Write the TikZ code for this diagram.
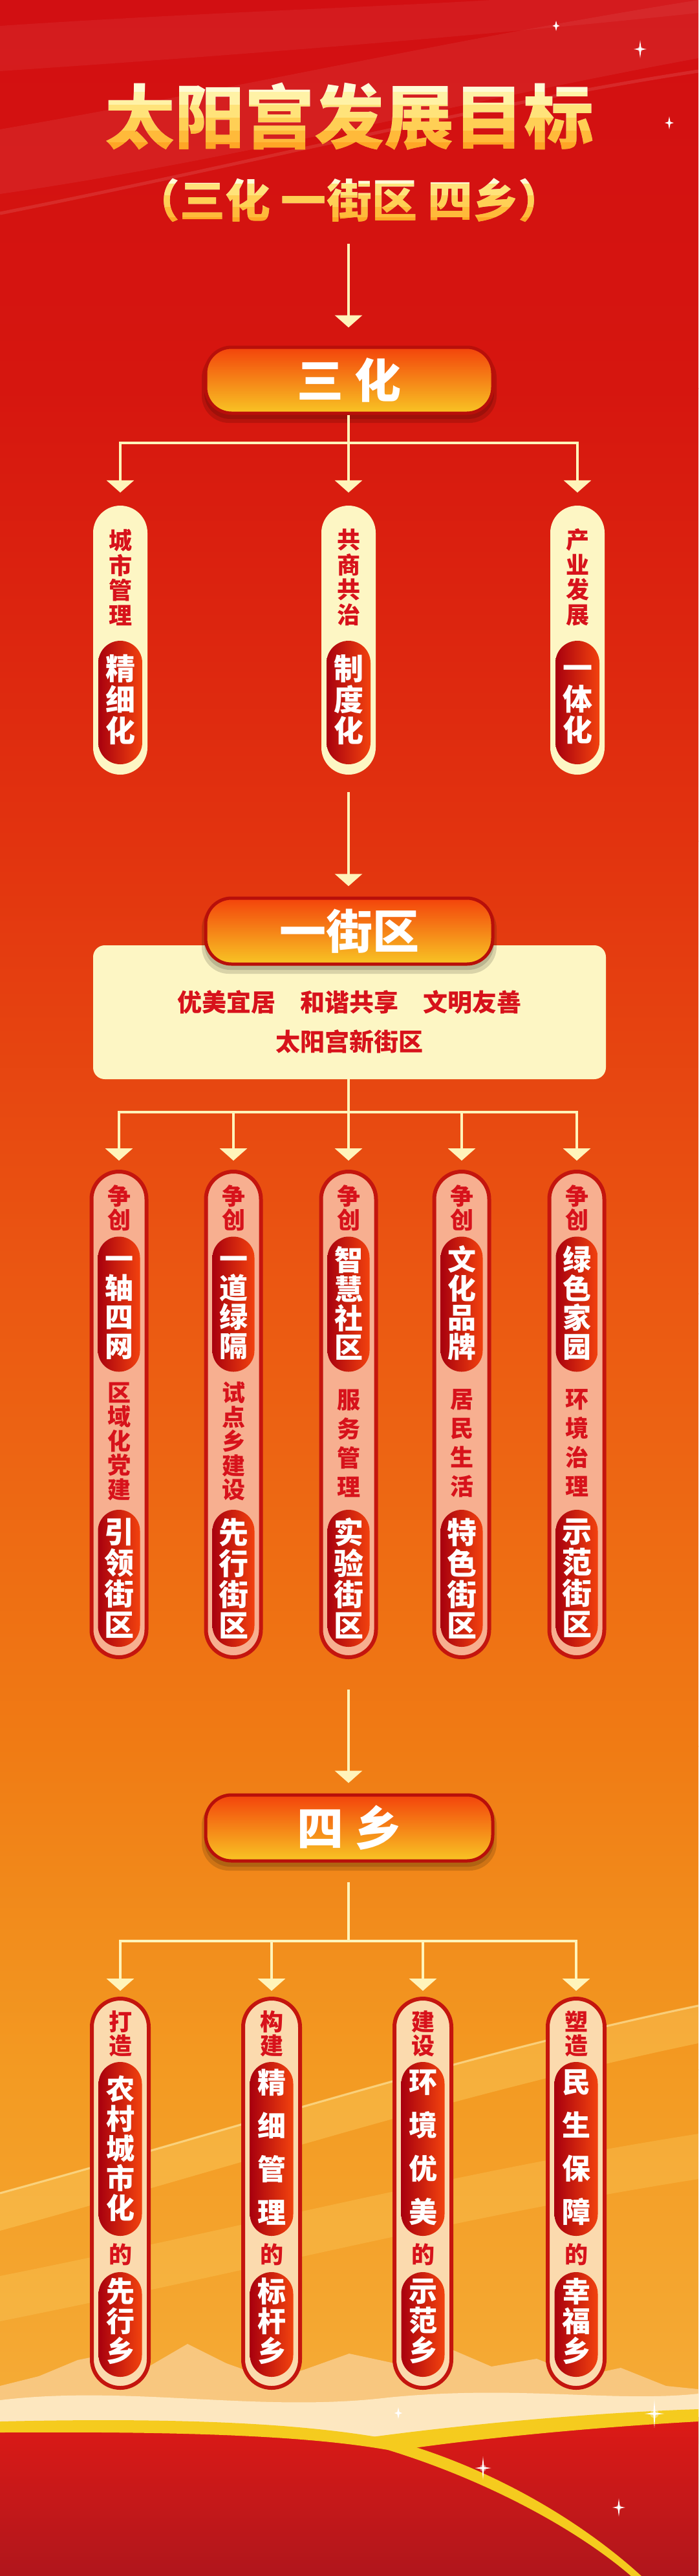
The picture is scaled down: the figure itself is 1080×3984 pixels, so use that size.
\documentclass[tikz,border=0pt]{standalone}
\usepackage{fontspec}
\setmainfont{Noto Sans CJK SC}
\usetikzlibrary{arrows.meta}
\definecolor{bg0}{HTML}{D20F12}
\definecolor{bg1}{HTML}{D6160F}
\definecolor{bg2}{HTML}{E2330F}
\definecolor{bg3}{HTML}{EB5812}
\definecolor{bg4}{HTML}{F07B14}
\definecolor{bg5}{HTML}{F39A22}
\definecolor{bg6}{HTML}{F6B440}
\definecolor{cream}{HTML}{FDF6C4}
\definecolor{txtred}{HTML}{D7121B}
\definecolor{arrowc}{HTML}{FFF4BA}
\definecolor{boxborder}{HTML}{B80F0A}
\definecolor{boxtop}{HTML}{F3430B}
\definecolor{boxmid}{HTML}{F5891A}
\definecolor{boxbot}{HTML}{F8C524}
\definecolor{salmon}{HTML}{F7AF90}
\definecolor{peach}{HTML}{FBDAAE}
\definecolor{pillborder}{HTML}{C4150E}
\definecolor{pillL}{HTML}{A8000E}
\definecolor{pillM}{HTML}{D01015}
\definecolor{pillR}{HTML}{F2420E}
\definecolor{goldA}{HTML}{FFF8C8}
\definecolor{g1}{HTML}{FFFBD6}
\definecolor{g2}{HTML}{FFF2A6}
\definecolor{g3}{HTML}{FFE37A}
\definecolor{g4}{HTML}{FFCF55}
\definecolor{g5}{HTML}{FFBA3A}
\definecolor{g6}{HTML}{FFA626}
\definecolor{redbotA}{HTML}{DD1A16}
\definecolor{redbotB}{HTML}{B0161C}
\definecolor{ribbon}{HTML}{F5CB1E}
\definecolor{mtnA}{HTML}{F9CB88}
\definecolor{mtnB}{HTML}{FFF0D0}
\definecolor{bandc}{HTML}{FFE27A}

\newcommand\mysparkle[3]{%
  \begin{scope}[shift={(#1,#2)}]
    \fill[white,opacity=0.35] (0,0) circle [radius=#3*0.3pt];
    \fill[white] (0,-#3) -- (1.6,-1.6) -- (#3*0.7,0) -- (1.6,1.6) -- (0,#3) -- (-1.6,1.6) -- (-#3*0.7,0) -- (-1.6,-1.6) -- cycle;
  \end{scope}}

\newcommand\mybox[4]{%
  \fill[black,opacity=0.14,rounded corners=42pt] (#2-228,#3-46) rectangle (#2+228,#3+66);
  \fill[black,opacity=0.14,rounded corners=40pt] (#2-224,#3-46) rectangle (#2+224,#3+60);
  \node[mainbox] (#1) at (#2,#3) {#4};}

\tikzset{
  conn/.style={draw=arrowc, line width=4pt},
  arr/.style={conn, -{Triangle[width=42pt,length=19pt]}},
  mainbox/.style={draw=boxborder, line width=5pt, rounded corners=40pt,
    minimum width=444pt, minimum height=102pt, inner sep=0pt,
    top color=boxtop, middle color=boxmid, bottom color=boxbot,
    text=white, font=\fontsize{72}{72}\selectfont\bfseries},
  creambox/.style={fill=cream, rounded corners=18pt, minimum width=793pt,
    minimum height=207pt, inner sep=0pt},
  linetext/.style={text=txtred, inner sep=0pt, font=\fontsize{38}{38}\selectfont\bfseries},
  redv/.style 2 args={align=center, inner sep=0pt, text=txtred,
    font=\fontsize{#1}{#2}\selectfont\bfseries},
  whitev/.style 2 args={align=center, inner sep=0pt, text=white,
    font=\fontsize{#1}{#2}\selectfont\bfseries},
  pillq/.style={fill=cream, minimum width=84pt, minimum height=416pt,
    rounded corners=42pt, inner sep=0pt},
  pillr/.style={fill=salmon, draw=pillborder, line width=6pt, minimum width=85pt,
    minimum height=751pt, rounded corners=42.5pt, inner sep=0pt},
  pills/.style={fill=peach, draw=pillborder, line width=6pt, minimum width=88pt,
    minimum height=602pt, rounded corners=44pt, inner sep=0pt},
  innerpill/.style 2 args={left color=pillL, middle color=pillM, right color=pillR,
    minimum width=#1pt, minimum height=#2pt, rounded corners=#1pt/2, inner sep=0pt},
  gmul/.style={blend mode=darken, fill=#1},
}

\begin{document}
\begin{tikzpicture}[x=1pt,y=-1pt]
\useasboundingbox (0,0) rectangle (1080,3984);

% ---------- background ----------
\fill[top color=bg0, bottom color=bg1] (0,0) rectangle (1080,601);
\fill[top color=bg1, bottom color=bg2] (0,600) rectangle (1080,1301);
\fill[top color=bg2, bottom color=bg3] (0,1300) rectangle (1080,2001);
\fill[top color=bg3, bottom color=bg4] (0,2000) rectangle (1080,2701);
\fill[top color=bg4, bottom color=bg5] (0,2700) rectangle (1080,3201);
\fill[top color=bg5, bottom color=bg6] (0,3200) rectangle (1080,3984);

% top light swooshes
\fill[white,opacity=0.06] (0,200) .. controls (350,140) and (700,60) .. (1080,0)
  -- (1080,90) .. controls (700,160) and (350,250) .. (0,300) -- cycle;
\fill[white,opacity=0.05] (0,40) .. controls (300,20) and (600,10) .. (760,0)
  -- (1080,0) -- (1080,20) .. controls (700,60) and (300,90) .. (0,110) -- cycle;
\draw[white,opacity=0.10,line width=5pt] (0,330) .. controls (400,250) and (750,160) .. (1080,110);
\mysparkle{990}{76}{14}
\mysparkle{1035}{190}{10}
\mysparkle{860}{40}{8}

% golden bands lower area
\fill[bandc,opacity=0.30] (0,3390) .. controls (400,3280) and (700,3180) .. (1080,3100)
  -- (1080,3160) .. controls (700,3240) and (400,3340) .. (0,3450) -- cycle;
\draw[goldA,opacity=0.45,line width=3pt] (0,3392) .. controls (400,3282) and (700,3182) .. (1080,3102);
\fill[bandc,opacity=0.22] (0,3520) .. controls (400,3440) and (700,3360) .. (1080,3300)
  -- (1080,3370) .. controls (700,3430) and (400,3510) .. (0,3590) -- cycle;

% mountains
\fill[mtnA,opacity=0.9] (0,3690) -- (60,3675) -- (120,3650) -- (170,3640) -- (230,3660)
  -- (290,3625) -- (350,3655) -- (420,3680) -- (470,3665) -- (540,3640) -- (610,3655)
  -- (690,3630) -- (760,3660) -- (830,3648) -- (900,3675) -- (960,3662) -- (1030,3690)
  -- (1080,3695) -- (1080,3780) -- (0,3780) -- cycle;
\fill[mtnB,opacity=0.8] (0,3712) .. controls (200,3688) and (400,3732) .. (600,3708)
  .. controls (800,3688) and (950,3716) .. (1080,3702) -- (1080,3780) -- (0,3780) -- cycle;

% red bottom with ribbons
\fill[top color=redbotA, bottom color=redbotB] (0,3758) .. controls (300,3750) and (480,3765) .. (606,3784)
  .. controls (760,3758) and (950,3742) .. (1080,3738) -- (1080,3984) -- (0,3984) -- cycle;
\fill[ribbon] (0,3745) .. controls (300,3738) and (480,3750) .. (600,3772)
  .. controls (760,3815) and (900,3900) .. (992,3984) -- (976,3984)
  .. controls (890,3910) and (750,3835) .. (600,3789)
  .. controls (480,3768) and (300,3760) .. (0,3762) -- cycle;
\fill[ribbon] (560,3771) .. controls (750,3745) and (950,3730) .. (1080,3726)
  -- (1080,3745) .. controls (950,3752) and (760,3768) .. (612,3790) -- cycle;
\mysparkle{1012}{3733}{22}
\mysparkle{747}{3817}{18}
\mysparkle{957}{3878}{14}
\mysparkle{616}{3732}{9}

% ---------- title ----------
\node[inner sep=0pt, text=white, font=\fontsize{108}{108}\selectfont\bfseries] (title) at (540,180) {太阳宫发展目标};
\node[inner sep=0pt, text=white, font=\fontsize{70}{70}\selectfont\bfseries] (sub) at (540,310) {（三化 一街区 四乡）};
\fill[gmul=g1] (140,118) rectangle (940,142);
\fill[gmul=g2] (140,142) rectangle (940,162);
\fill[gmul=g3] (140,162) rectangle (940,182);
\fill[gmul=g4] (140,182) rectangle (940,202);
\fill[gmul=g5] (140,202) rectangle (940,220);
\fill[gmul=g6] (140,220) rectangle (940,242);
\fill[gmul=g1] (190,266) rectangle (890,284);
\fill[gmul=g3] (190,284) rectangle (890,302);
\fill[gmul=g4] (190,302) rectangle (890,320);
\fill[gmul=g5] (190,320) rectangle (890,336);
\fill[gmul=g6] (190,336) rectangle (890,354);
\coordinate (a0) at (539,377);

% ---------- level 1 : 三化 ----------
\mybox{box1}{540}{588}{三 化}
\draw[arr, shorten >=28pt] (a0) -- (box1.north -| a0);

\node[pillq] (q1) at (186,990) {};
\node[pillq] (q2) at (539,990) {};
\node[pillq] (q3) at (893,990) {};
\coordinate (j1) at (539,685);
\coordinate (j1L) at (186,685);
\coordinate (j1R) at (893,685);
\draw[conn] (box1.south -| j1) -- (j1);
\draw[conn, line cap=rect] (j1L) -- (j1R);
\draw[arr, shorten >=20pt] (j1L) -- (q1.north);
\draw[arr, shorten >=20pt] (j1) -- (q2.north);
\draw[arr, shorten >=20pt] (j1R) -- (q3.north);

\node[redv={36}{38.5}] (q1t) at (186,893) {城\\市\\管\\理};
\node[redv={36}{38.5}] (q2t) at (539,893) {共\\商\\共\\治};
\node[redv={36}{38.5}] (q3t) at (893,893) {产\\业\\发\\展};
\node[innerpill={68}{191}] (q1i) at (186,1086.5) {};
\node[innerpill={68}{191}] (q2i) at (539,1086.5) {};
\node[innerpill={68}{191}] (q3i) at (893,1086.5) {};
\node[whitev={46}{48}] (q1w) at (186,1082) {精\\细\\化};
\node[whitev={46}{48}] (q2w) at (539,1082) {制\\度\\化};
\node[whitev={46}{48}] (q3w) at (893,1082) {\vphantom{国}一\\体\\化};

% ---------- level 2 : 一街区 ----------
\node[creambox] (cb) at (540.5,1565.5) {};
\mybox{box2}{540}{1440}{一街区}
\draw[arr, shorten <=27pt, shorten >=16pt] (q2.south) -- (box2.north -| q2.south);
\node[linetext] (cbt1) at (540,1550) {优美宜居\hspace{1em}和谐共享\hspace{1em}文明友善};
\node[linetext] (cbt2) at (540,1611) {太阳宫新街区};

\node[pillr] (r1) at (184,2187.5) {};
\node[pillr] (r2) at (361,2187.5) {};
\node[pillr] (r3) at (539,2187.5) {};
\node[pillr] (r4) at (714,2187.5) {};
\node[pillr] (r5) at (892,2187.5) {};
\coordinate (j2) at (539,1720);
\coordinate (j2L) at (184,1720);
\coordinate (j2R) at (892,1720);
\coordinate (j2b) at (361,1720);
\coordinate (j2d) at (714,1720);
\draw[conn] (cb.south -| j2) -- (j2);
\draw[conn, line cap=rect] (j2L) -- (j2R);
\draw[arr, shorten >=14pt] (j2L) -- (r1.north);
\draw[arr, shorten >=14pt] (j2b) -- (r2.north);
\draw[arr, shorten >=14pt] (j2) -- (r3.north);
\draw[arr, shorten >=14pt] (j2d) -- (r4.north);
\draw[arr, shorten >=14pt] (j2R) -- (r5.north);

\foreach \n/\x in {1/184,2/361,3/539,4/714,5/892}{
  \node[redv={36}{37}] (r\n a) at (\x,1868) {争\\创};
  \node[innerpill={65}{209}] (r\n i) at (\x,2017) {};
  \node[innerpill={65}{212}] (r\n j) at (\x,2441) {};
}
\node[whitev={44}{45}] (r1b) at (184,2015) {\vphantom{国}一\\轴\\四\\网};
\node[whitev={44}{45}] (r2b) at (361,2015) {\vphantom{国}一\\道\\绿\\隔};
\node[whitev={44}{45}] (r3b) at (539,2015) {智\\慧\\社\\区};
\node[whitev={44}{45}] (r4b) at (714,2015) {文\\化\\品\\牌};
\node[whitev={44}{45}] (r5b) at (892,2015) {绿\\色\\家\\园};
\node[redv={36}{37.5}] (r1c) at (184,2229) {区\\域\\化\\党\\建};
\node[redv={36}{37.5}] (r2c) at (361,2229) {试\\点\\乡\\建\\设};
\node[redv={36}{45}] (r3c) at (539,2232) {服\\务\\管\\理};
\node[redv={36}{45}] (r4c) at (714,2232) {居\\民\\生\\活};
\node[redv={36}{45}] (r5c) at (892,2232) {环\\境\\治\\理};
\node[whitev={46}{48}] (r1d) at (184,2441) {引\\领\\街\\区};
\node[whitev={46}{48}] (r2d) at (361,2441) {先\\行\\街\\区};
\node[whitev={46}{48}] (r3d) at (539,2441) {实\\验\\街\\区};
\node[whitev={46}{48}] (r4d) at (714,2441) {特\\色\\街\\区};
\node[whitev={46}{48}] (r5d) at (892,2441) {示\\范\\街\\区};

% ---------- level 3 : 四乡 ----------
\mybox{box3}{540}{2827}{四 乡}
\draw[arr, shorten <=47pt, shorten >=16pt] (r3.south) -- (box3.north -| r3.south);

\node[pills] (s1) at (186,3392) {};
\node[pills] (s2) at (420,3392) {};
\node[pills] (s3) at (654,3392) {};
\node[pills] (s4) at (891,3392) {};
\coordinate (j3) at (539,3002);
\coordinate (j3L) at (186,3002);
\coordinate (j3R) at (891,3002);
\coordinate (j3b) at (420,3002);
\coordinate (j3c) at (654,3002);
\draw[conn, shorten <=30pt] (box3.south -| j3) -- (j3);
\draw[conn, line cap=rect] (j3L) -- (j3R);
\draw[arr, shorten >=9pt] (j3L) -- (s1.north);
\draw[arr, shorten >=9pt] (j3b) -- (s2.north);
\draw[arr, shorten >=9pt] (j3c) -- (s3.north);
\draw[arr, shorten >=9pt] (j3R) -- (s4.north);

\foreach \n/\x in {1/186,2/420,3/654,4/891}{
  \node[innerpill={67}{269}] (s\n i) at (\x,3323.5) {};
  \node[innerpill={67}{162}] (s\n j) at (\x,3595) {};
  \node[redv={36}{37}] (s\n c) at (\x,3487) {的};
}
\node[redv={36}{37}] (s1a) at (186,3145) {打\\造};
\node[redv={36}{37}] (s2a) at (420,3145) {构\\建};
\node[redv={36}{37}] (s3a) at (654,3145) {建\\设};
\node[redv={36}{37}] (s4a) at (891,3145) {塑\\造};
\node[whitev={44}{46}] (s1b) at (186,3323) {农\\村\\城\\市\\化};
\node[whitev={44}{67}] (s2b) at (420,3321) {精\\细\\管\\理};
\node[whitev={44}{67}] (s3b) at (654,3321) {环\\境\\优\\美};
\node[whitev={44}{67}] (s4b) at (891,3321) {民\\生\\保\\障};
\node[whitev={44}{46}] (s1d) at (186,3590) {先\\行\\乡};
\node[whitev={44}{46}] (s2d) at (420,3590) {标\\杆\\乡};
\node[whitev={44}{46}] (s3d) at (654,3590) {示\\范\\乡};
\node[whitev={44}{46}] (s4d) at (891,3590) {幸\\福\\乡};
\end{tikzpicture}
\end{document}
